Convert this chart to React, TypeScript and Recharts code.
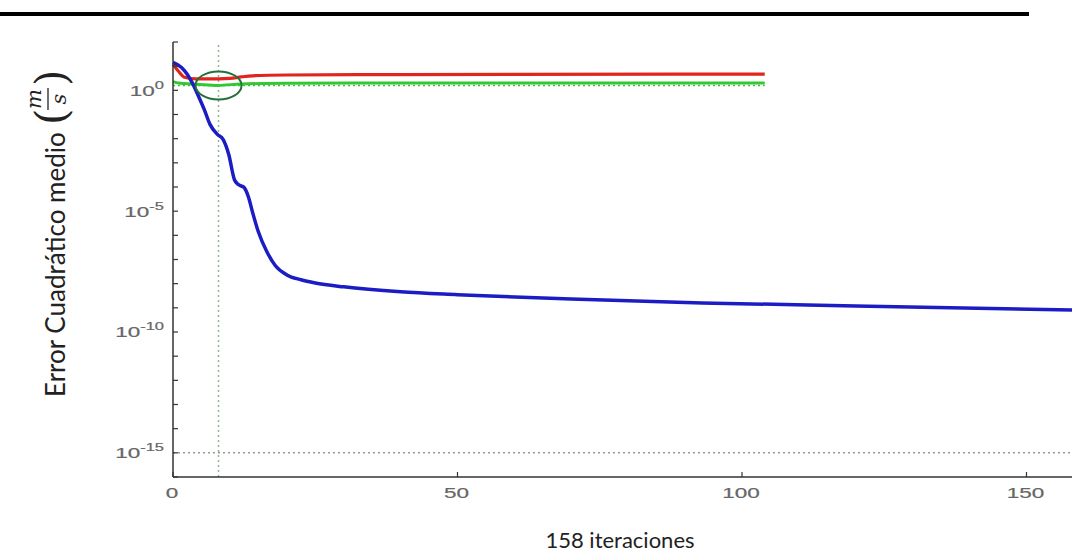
import React from "react";
import {
  LineChart,
  Line,
  XAxis,
  YAxis,
  ReferenceLine,
  ReferenceDot,
} from "recharts";

// training record (mse per epoch), read at the bends of each curve
const trainEpochs = [0, 1.5, 2.5, 3.5, 4.5, 5.5, 6.5, 7.8, 8.8, 9.8, 10.8, 11.5, 12.5, 13.3, 14, 15, 16.5, 18, 20, 22.5, 25, 30, 40, 50, 70, 93, 120, 158];
const trainPerf = [14.5, 8.9, 4.6, 1.8, 0.56, 0.16, 0.039, 0.015, 0.0093, 0.0022, 2.0e-4, 1.26e-4, 9.5e-5, 3.6e-5, 8.7e-6, 1.4e-6, 2.1e-7, 5.5e-8, 2.3e-8, 1.45e-8, 1.07e-8, 7.4e-9, 4.6e-9, 3.5e-9, 2.3e-9, 1.6e-9, 1.2e-9, 8.1e-10];

const valEpochs = [0, 1, 2, 4, 8, 12, 20, 40, 104];
const valPerf = [2.3, 2.0, 1.9, 1.8, 1.6, 1.85, 1.95, 2.0, 2.0];

const testEpochs = [0, 1, 2, 4, 8, 10, 12, 14, 20, 40, 104];
const testPerf = [12, 6, 3.5, 3.0, 3.0, 3.1, 3.6, 4.0, 4.3, 4.5, 4.7];

const bestEpoch = 8;
const bestPerf = 1.6;
const goal = 1e-15;

const xTicks = [0, 50, 100, 150];
const yTicks = [1e-16, 1e-15, 1e-14, 1e-13, 1e-12, 1e-11, 1e-10, 1e-9, 1e-8, 1e-7, 1e-6, 1e-5, 1e-4, 1e-3, 1e-2, 1e-1, 1, 1e1, 1e2];
const yLabelled = [0, -5, -10, -15];

const toRows = (xs: number[], ys: number[]) => xs.map((x, i) => ({ epoch: x, perf: ys[i] }));
const train = toRows(trainEpochs, trainPerf);
const val = toRows(valEpochs, valPerf);
const test = toRows(testEpochs, testPerf);

const tickFont = "'Liberation Sans', Arial, sans-serif";
const titleFont = "Lato, 'Open Sans', sans-serif";
const mathFont = "'DejaVu Serif', serif";

// ticks point inward (MATLAB style); labels are drawn wide
const YTick = (props: any) => {
  const { x, y, payload } = props;
  const exp = Math.round(Math.log10(payload.value));
  return (
    <g>
      <line x1={x} y1={y} x2={x + 5} y2={y} stroke="#333" strokeWidth={1.2} />
      {yLabelled.includes(exp) && (
        <g transform={`translate(${x - 9},${y}) scale(1.5,1)`}>
          <text textAnchor="end" dy="0.36em" fontSize={15} fill="#666" stroke="#666" strokeWidth={0.2} fontFamily={tickFont}>
            10
            <tspan dy={-7} fontSize={11}>{exp}</tspan>
          </text>
        </g>
      )}
    </g>
  );
};

const XTick = (props: any) => {
  const { x, y, payload } = props;
  return (
    <g>
      <line x1={x} y1={y} x2={x} y2={y - 5} stroke="#333" strokeWidth={1.2} />
      <g transform={`translate(${x - 1},${y + 21}) scale(1.5,1)`}>
        <text textAnchor="middle" fontSize={15} fill="#666" stroke="#666" strokeWidth={0.2} fontFamily={tickFont}>
          {payload.value}
        </text>
      </g>
    </g>
  );
};

const BestMark = (props: any) => (
  <ellipse cx={props.cx} cy={props.cy} rx={23} ry={14} fill="none" stroke="#23703a" strokeWidth={2} />
);

export default function App() {
  return (
    <div style={{ position: "absolute", left: 0, top: 0, width: 1090, height: 553, background: "#fff" }}>
      <div style={{ position: "absolute", left: 0, top: 12, width: 1029, height: 3.5, background: "#000" }} />
      <LineChart
        width={1090}
        height={553}
        margin={{ top: 42, right: 18, bottom: 46, left: 113 }}
        style={{ position: "absolute", left: 0, top: 0 }}
      >
        <XAxis
          dataKey="epoch"
          type="number"
          domain={[0, 158]}
          ticks={xTicks}
          height={30}
          tickSize={0}
          tickMargin={0}
          tick={<XTick />}
          axisLine={{ stroke: "#333", strokeWidth: 1.5 }}
          allowDuplicatedCategory={false}
        />
        <YAxis
          dataKey="perf"
          type="number"
          scale="log"
          domain={[1e-16, 1e2]}
          ticks={yTicks}
          width={60}
          tickSize={0}
          tickMargin={0}
          tick={<YTick />}
          interval={0}
          allowDataOverflow
          axisLine={{ stroke: "#333", strokeWidth: 1.5 }}
        />
        <ReferenceLine y={goal} stroke="#9a9a9a" strokeWidth={1.5} strokeDasharray="2 3" />
        <ReferenceLine x={bestEpoch} stroke="#8fb58f" strokeWidth={1.5} strokeDasharray="2 3" />
        <ReferenceLine
          segment={[{ x: 0, y: bestPerf }, { x: 104, y: bestPerf }]}
          stroke="#3cbf3c"
          strokeWidth={1.5}
          strokeDasharray="2 3"
        />
        <Line data={test} dataKey="perf" type="monotone" stroke="#e0261c" strokeWidth={3.2} dot={false} isAnimationActive={false} />
        <Line data={val} dataKey="perf" type="monotone" stroke="#33c733" strokeWidth={3} dot={false} isAnimationActive={false} />
        <Line data={train} dataKey="perf" type="monotone" stroke="#1c1cc4" strokeWidth={3.5} dot={false} isAnimationActive={false} />
        <ReferenceDot x={bestEpoch} y={bestPerf} shape={<BestMark />} />
      </LineChart>
      <svg width={1090} height={553} style={{ position: "absolute", left: 0, top: 0, pointerEvents: "none" }}>
        <g transform="translate(65,397) rotate(-90)" fontFamily={titleFont} fill="#222">
          <text x={0} y={0} fontSize={26}>Error Cuadrático medio</text>
          <text x={272} y={1} fontSize={42} fontFamily={mathFont} fontWeight={300}>(</text>
          <text x={298} y={-24} fontSize={21} fontStyle="italic" textAnchor="middle" fontFamily={mathFont}>m</text>
          <line x1={287} y1={-17} x2={309} y2={-17} stroke="#222" strokeWidth={1.3} />
          <text x={298} y={1} fontSize={21} fontStyle="italic" textAnchor="middle" fontFamily={mathFont}>s</text>
          <text x={311} y={1} fontSize={42} fontFamily={mathFont} fontWeight={300}>)</text>
        </g>
        <text x={620} y={548} textAnchor="middle" fontSize={22} fontFamily={titleFont} fill="#222">
          158 iteraciones
        </text>
      </svg>
    </div>
  );
}
